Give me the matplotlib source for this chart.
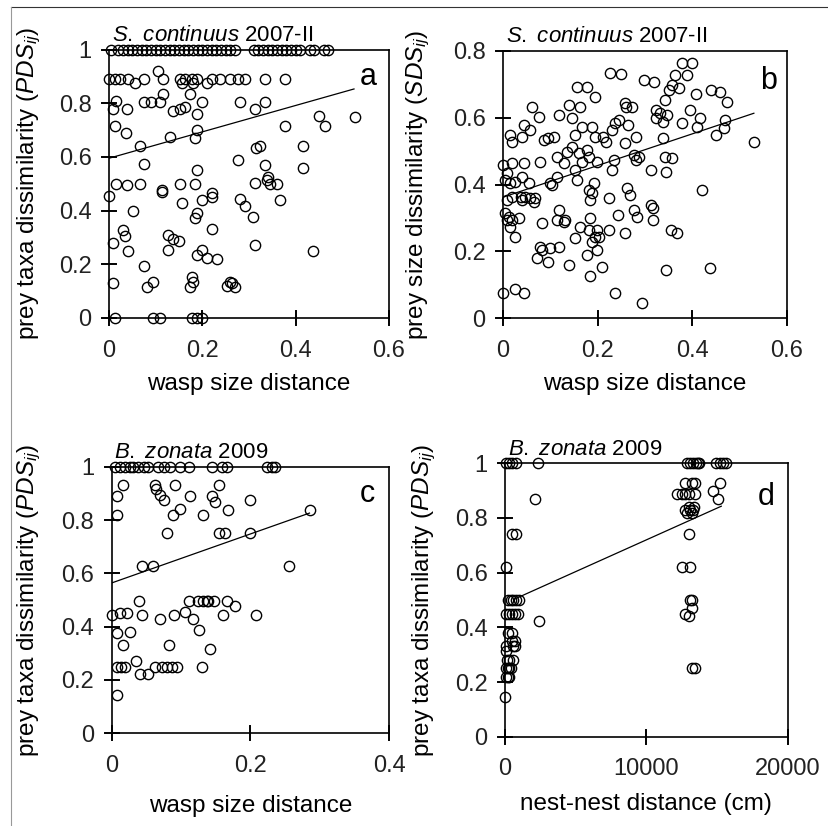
import matplotlib
matplotlib.use("Agg")
import matplotlib.pyplot as plt
from matplotlib.lines import Line2D
from matplotlib.ticker import FormatStrFormatter
from matplotlib.transforms import IdentityTransform

plt.rcParams['font.family'] = ['Liberation Sans', 'DejaVu Sans']
plt.rcParams['mathtext.fontset'] = 'custom'
plt.rcParams['mathtext.rm'] = 'Liberation Sans'
plt.rcParams['mathtext.it'] = 'Liberation Sans:italic'

# panel a: S. continuus 2007-II, wasp size distance vs PDS
a_x = [0.005, 0.02, 0.03, 0.04, 0.05, 0.06, 0.07, 0.08, 0.09, 0.10, 0.11, 0.12, 0.13, 0.14,
       0.15, 0.16, 0.17, 0.18, 0.19, 0.20, 0.21, 0.22, 0.23, 0.24, 0.25, 0.26, 0.27, 0.31,
       0.32, 0.33, 0.34, 0.35, 0.36, 0.37, 0.38, 0.39, 0.40, 0.41, 0.43, 0.44, 0.46, 0.47,
       0.0, 0.013, 0.024, 0.041, 0.074, 0.116, 0.152, 0.163, 0.177, 0.188, 0.22, 0.238, 0.259,
       0.277, 0.291, 0.334, 0.377, 0.106, 0.056, 0.156, 0.18, 0.21,
       0.016, 0.009, 0.038, 0.074, 0.091, 0.109, 0.116, 0.138, 0.152, 0.163, 0.174, 0.188,
       0.199, 0.281, 0.313, 0.334, 0.449, 0.463, 0.527,
       0.013, 0.036, 0.131, 0.188, 0.184, 0.377, 0.066,
       0.316, 0.324, 0.416, 0.277, 0.074, 0.188, 0.334, 0.416,
       0.016, 0.038, 0.066, 0.152, 0.184, 0.313, 0.338, 0.345, 0.359, 0.34,
       0.0, 0.114, 0.114, 0.22, 0.22, 0.156, 0.199, 0.281, 0.291, 0.366, 0.052, 0.309, 0.188, 0.184,
       0.031, 0.034, 0.009, 0.127, 0.138, 0.149, 0.22, 0.313, 0.041, 0.127, 0.188, 0.199, 0.209,
       0.231, 0.438,
       0.074, 0.081, 0.095, 0.009, 0.177, 0.181, 0.174, 0.252, 0.263, 0.27, 0.259,
       0.013, 0.095, 0.109, 0.177, 0.199, 0.188]
a_y = [1.0, 1.0, 1.0, 1.0, 1.0, 1.0, 1.0, 1.0, 1.0, 1.0, 1.0, 1.0, 1.0, 1.0,
       1.0, 1.0, 1.0, 1.0, 1.0, 1.0, 1.0, 1.0, 1.0, 1.0, 1.0, 1.0, 1.0, 1.0,
       1.0, 1.0, 1.0, 1.0, 1.0, 1.0, 1.0, 1.0, 1.0, 1.0, 1.0, 1.0, 1.0, 1.0,
       0.89, 0.89, 0.89, 0.89, 0.89, 0.89, 0.89, 0.89, 0.89, 0.89, 0.89, 0.89, 0.89,
       0.89, 0.89, 0.89, 0.89, 0.92, 0.875, 0.875, 0.875, 0.875,
       0.81, 0.78, 0.78, 0.805, 0.805, 0.805, 0.836, 0.77, 0.78, 0.785, 0.836, 0.76,
       0.805, 0.805, 0.78, 0.805, 0.753, 0.715, 0.75,
       0.715, 0.69, 0.675, 0.70, 0.67, 0.715, 0.64,
       0.635, 0.64, 0.64, 0.59, 0.573, 0.55, 0.57, 0.557,
       0.5, 0.496, 0.5, 0.5, 0.5, 0.504, 0.514, 0.5, 0.5, 0.525,
       0.455, 0.47, 0.475, 0.467, 0.45, 0.427, 0.44, 0.442, 0.418, 0.44, 0.4, 0.378, 0.39, 0.372,
       0.328, 0.304, 0.281, 0.31, 0.294, 0.285, 0.331, 0.273, 0.248, 0.252, 0.235, 0.254, 0.225,
       0.219, 0.248,
       0.195, 0.115, 0.133, 0.13, 0.152, 0.133, 0.115, 0.118, 0.13, 0.115, 0.135,
       0.0, 0.0, 0.0, 0.0, 0.0, 0.0]
a_fit_x = [0.0, 0.525]
a_fit_y = [0.595, 0.853]

# panel b: S. continuus 2007-II, wasp size distance vs SDS
b_x = [0.0, 0.026, 0.044, 0.0, 0.008, 0.019, 0.044, 0.015, 0.019, 0.044, 0.04, 0.061, 0.075, 0.058,
       0.005, 0.015, 0.026, 0.04, 0.054, 0.008, 0.019, 0.037, 0.04, 0.047, 0.058, 0.065, 0.068,
       0.005, 0.012, 0.008, 0.019, 0.033, 0.026, 0.015,
       0.082, 0.079, 0.082, 0.072, 0.096, 0.1, 0.118,
       0.079, 0.086, 0.096, 0.107, 0.1, 0.104, 0.114, 0.114, 0.118, 0.114, 0.128, 0.132,
       0.118, 0.139, 0.146, 0.135, 0.128, 0.146, 0.153, 0.157, 0.153, 0.163, 0.157, 0.177, 0.167,
       0.16, 0.167, 0.177, 0.181, 0.188, 0.195, 0.195,
       0.139, 0.153, 0.163, 0.177, 0.181, 0.184, 0.184, 0.181, 0.188, 0.192, 0.188, 0.195, 0.199,
       0.199, 0.202, 0.184, 0.209, 0.199,
       0.211, 0.218, 0.223, 0.223, 0.23, 0.234, 0.23, 0.237, 0.227, 0.25, 0.246, 0.257, 0.259,
       0.257, 0.257, 0.243, 0.237,
       0.265, 0.262, 0.269, 0.273, 0.276, 0.28, 0.287, 0.28, 0.276, 0.283, 0.294, 0.297,
       0.313, 0.313, 0.317, 0.317, 0.32, 0.324, 0.324, 0.331, 0.338, 0.338, 0.342, 0.344, 0.346,
       0.342, 0.35, 0.357, 0.354, 0.345, 0.357,
       0.364, 0.371, 0.378, 0.378, 0.389, 0.4, 0.367, 0.396, 0.407, 0.41, 0.417, 0.42, 0.438,
       0.44, 0.459, 0.473, 0.449, 0.466, 0.47, 0.53]
b_y = [0.075, 0.087, 0.077, 0.458, 0.433, 0.463, 0.463, 0.548, 0.528, 0.578, 0.543, 0.632, 0.603, 0.563,
       0.413, 0.403, 0.408, 0.423, 0.405, 0.354, 0.364, 0.364, 0.354, 0.364, 0.359, 0.349, 0.359,
       0.314, 0.304, 0.294, 0.294, 0.299, 0.244, 0.274,
       0.284, 0.214, 0.204, 0.179, 0.169, 0.209, 0.214,
       0.468, 0.533, 0.538, 0.543, 0.403, 0.398, 0.423, 0.483, 0.324, 0.294, 0.289, 0.294,
       0.608, 0.638, 0.598, 0.498, 0.463, 0.513, 0.443, 0.413, 0.548, 0.633, 0.692, 0.69, 0.573,
       0.493, 0.468, 0.503, 0.483, 0.573, 0.543, 0.663,
       0.159, 0.239, 0.274, 0.189, 0.264, 0.299, 0.354, 0.384, 0.374, 0.403, 0.229, 0.244, 0.204,
       0.264, 0.244, 0.126, 0.154, 0.468,
       0.543, 0.528, 0.359, 0.264, 0.443, 0.473, 0.563, 0.583, 0.734, 0.73, 0.593, 0.643, 0.633,
       0.523, 0.254, 0.309, 0.075,
       0.578, 0.389, 0.369, 0.633, 0.488, 0.473, 0.483, 0.543, 0.324, 0.304, 0.045, 0.712,
       0.443, 0.339, 0.329, 0.294, 0.707, 0.598, 0.623, 0.613, 0.588, 0.538, 0.483, 0.438, 0.608,
       0.653, 0.682, 0.697, 0.264, 0.144, 0.478,
       0.727, 0.687, 0.583, 0.762, 0.727, 0.762, 0.254, 0.623, 0.672, 0.573, 0.598, 0.384, 0.149,
       0.682, 0.677, 0.648, 0.548, 0.568, 0.593, 0.528]
b_fit_x = [0.0, 0.53]
b_fit_y = [0.362, 0.613]

# panel c: B. zonata 2009, wasp size distance vs PDS
c_x = [0.005, 0.012, 0.019, 0.026, 0.031, 0.038, 0.046, 0.053, 0.067, 0.075, 0.084, 0.099,
       0.111, 0.144, 0.159, 0.166, 0.224, 0.231, 0.236,
       0.007, 0.016, 0.007, 0.063, 0.064, 0.07, 0.075, 0.091, 0.113, 0.144, 0.149, 0.155, 0.2,
       0.099, 0.089, 0.132, 0.168, 0.079, 0.154, 0.163, 0.2, 0.286,
       0.043, 0.059, 0.255,
       0.04, 0.111, 0.125, 0.132, 0.137, 0.139, 0.147, 0.166, 0.178,
       0.0, 0.012, 0.022, 0.043, 0.07, 0.09, 0.106, 0.117, 0.16, 0.208,
       0.007, 0.026, 0.126, 0.142, 0.017, 0.082,
       0.007, 0.014, 0.019, 0.035, 0.041, 0.053, 0.063, 0.072, 0.079, 0.087, 0.094, 0.13, 0.008]
c_y = [1.0, 1.0, 1.0, 1.0, 1.0, 1.0, 1.0, 1.0, 1.0, 1.0, 1.0, 1.0,
       1.0, 1.0, 1.0, 1.0, 1.0, 1.0, 1.0,
       0.89, 0.932, 0.819, 0.932, 0.915, 0.894, 0.875, 0.932, 0.89, 0.89, 0.869, 0.932, 0.875,
       0.84, 0.819, 0.819, 0.838, 0.751, 0.751, 0.751, 0.751, 0.836,
       0.626, 0.626, 0.626,
       0.498, 0.498, 0.498, 0.498, 0.498, 0.498, 0.498, 0.498, 0.477,
       0.442, 0.452, 0.452, 0.442, 0.43, 0.442, 0.455, 0.43, 0.442, 0.442,
       0.377, 0.381, 0.387, 0.318, 0.33, 0.33,
       0.247, 0.25, 0.247, 0.271, 0.222, 0.222, 0.247, 0.247, 0.247, 0.247, 0.247, 0.247, 0.143]
c_fit_x = [0.0, 0.285]
c_fit_y = [0.564, 0.826]

# panel d: B. zonata 2009, nest-nest distance (cm) vs PDS
d_x = [50, 300, 500, 750, 2300, 12900, 13100, 13300, 13500, 13650, 13750, 14900, 15200, 15400,
       15600,
       2100, 500, 750, 100, 0, 50, 150,
       200, 400, 600, 800, 1000, 100, 300, 500, 700, 900, 2400, 200, 500, 500, 700, 100, 600,
       700, 300, 600, 100, 200, 300, 400, 100, 200, 300,
       12160, 12500, 12750, 13000, 13200, 13450, 13450, 12750,
       12700, 12900, 13000, 13100, 13200, 13300, 13400,
       12990, 12500, 13100, 13200, 13100, 12750, 12990, 13200, 13200, 13450,
       14750, 15100, 15200]
d_y = [1.0, 1.0, 1.0, 1.0, 1.0, 1.0, 1.0, 1.0, 1.0, 1.0, 1.0, 1.0, 1.0, 1.0,
       1.0,
       0.868, 0.743, 0.743, 0.621, 0.144, 0.315, 0.279,
       0.5, 0.5, 0.5, 0.5, 0.5, 0.45, 0.45, 0.45, 0.45, 0.45, 0.425, 0.38, 0.38, 0.35, 0.35, 0.33,
       0.33, 0.33, 0.28, 0.28, 0.25, 0.25, 0.25, 0.25, 0.22, 0.22, 0.22,
       0.888, 0.888, 0.888, 0.888, 0.927, 0.927, 0.888, 0.927,
       0.83, 0.82, 0.84, 0.83, 0.82, 0.83, 0.84,
       0.743, 0.621, 0.621, 0.5, 0.5, 0.45, 0.44, 0.47, 0.25, 0.25,
       0.9, 0.868, 0.927]
d_fit_x = [700, 15300]
d_fit_y = [0.504, 0.843]

W, H = 829, 826


def px_axes(fig, left, right, top, bottom):
    return fig.add_axes([left / W, 1 - bottom / H, (right - left) / W, (bottom - top) / H])


def draw_ticks(fig, ax, xticks, yticks, half=7):
    # crossing tick marks, placed through the axes' own data transform
    for v in xticks:
        px, py = ax.transData.transform((v, 0))
        fig.add_artist(Line2D([px, px], [py - half, py + half], transform=IdentityTransform(),
                              color='black', lw=1.2))
    for v in yticks:
        px, py = ax.transData.transform((0, v))
        fig.add_artist(Line2D([px - half, px + half], [py, py], transform=IdentityTransform(),
                              color='black', lw=1.2))


def draw_panel(fig, ax, x, y, fx, fy, xmax, xticks, ymax, yticks, title, ylabel, xlabel, letter,
               letter_pos, ylab_x, xlab_y, xfmt):
    ax.plot(x, y, 'o', mfc='none', mec='black', ms=7.4, mew=1.0, clip_on=False, zorder=3)
    ax.plot(fx, fy, color='black', lw=0.9, zorder=2)
    ax.set_xlim(0, xmax)
    ax.set_ylim(0, ymax)
    ax.set_xticks(xticks)
    ax.set_yticks(yticks)
    ax.xaxis.set_major_formatter(FormatStrFormatter(xfmt))
    ax.yaxis.set_major_formatter(FormatStrFormatter('%g'))
    ax.tick_params(direction='inout', length=11, width=1.2, labelsize=17, labelcolor='#222222')
    ax.tick_params(axis='x', pad=10)
    ax.tick_params(axis='y', pad=7)
    for s in ax.spines.values():
        s.set_linewidth(1.2)
    ax.set_title(title, loc='left', fontsize=16, pad=6, x=0.01)
    ax.set_ylabel(ylabel, fontsize=17.5)
    ax.yaxis.set_label_coords(ylab_x, 0.5)
    ax.set_xlabel(xlabel, fontsize=17.5)
    ax.xaxis.set_label_coords(0.5, xlab_y)
    ax.text(letter_pos[0], letter_pos[1], letter, transform=ax.transAxes, ha='right',
            va='baseline', fontsize=22)
    draw_ticks(fig, ax, xticks, yticks)


fig = plt.figure(figsize=(W / 100, H / 100), dpi=100)

# thin page frame lines
fig.add_artist(Line2D([11 / W, 1], [1 - 7 / H, 1 - 7 / H], color='#333333', lw=0.8))
fig.add_artist(Line2D([11 / W, 11 / W], [0, 1 - 7 / H], color='#999999', lw=0.8))

sc_title = r"$\it{S.\ continuus}$ 2007-II"
bz_title = r"$\it{B.\ zonata}$ 2009"
pds_label = r"prey taxa dissimilarity ($\it{PDS}_{\it{ij}}$)"
sds_label = r"prey size dissimilarity ($\it{SDS}_{\it{ij}}$)"

ax_a = px_axes(fig, 109, 389, 49.5, 318)
draw_panel(fig, ax_a, a_x, a_y, a_fit_x, a_fit_y, 0.6, [0, 0.2, 0.4, 0.6], 1.0,
           [0, 0.2, 0.4, 0.6, 0.8, 1.0], sc_title, pds_label, "wasp size distance", "a",
           (0.957, 0.868), -0.236, -0.205, '%g')

ax_b = px_axes(fig, 503, 787, 50.7, 318.3)
draw_panel(fig, ax_b, b_x, b_y, b_fit_x, b_fit_y, 0.6, [0, 0.2, 0.4, 0.6], 0.8,
           [0, 0.2, 0.4, 0.6, 0.8], sc_title, sds_label, "wasp size distance", "b",
           (0.965, 0.857), -0.25, -0.204, '%g')

ax_c = px_axes(fig, 111.7, 389.3, 466.7, 733.3)
draw_panel(fig, ax_c, c_x, c_y, c_fit_x, c_fit_y, 0.4, [0, 0.2, 0.4], 1.0,
           [0, 0.2, 0.4, 0.6, 0.8, 1.0], bz_title, pds_label, "wasp size distance", "c",
           (0.949, 0.869), -0.247, -0.231, '%g')

ax_d = px_axes(fig, 505, 787.7, 463.3, 736.7)
draw_panel(fig, ax_d, d_x, d_y, d_fit_x, d_fit_y, 20000, [0, 10000, 20000], 1.0,
           [0, 0.2, 0.4, 0.6, 0.8, 1.0], bz_title, pds_label, "nest-nest distance (cm)", "d",
           (0.955, 0.847), -0.237, -0.206, '%d')

fig.savefig("out.png", dpi=100)
